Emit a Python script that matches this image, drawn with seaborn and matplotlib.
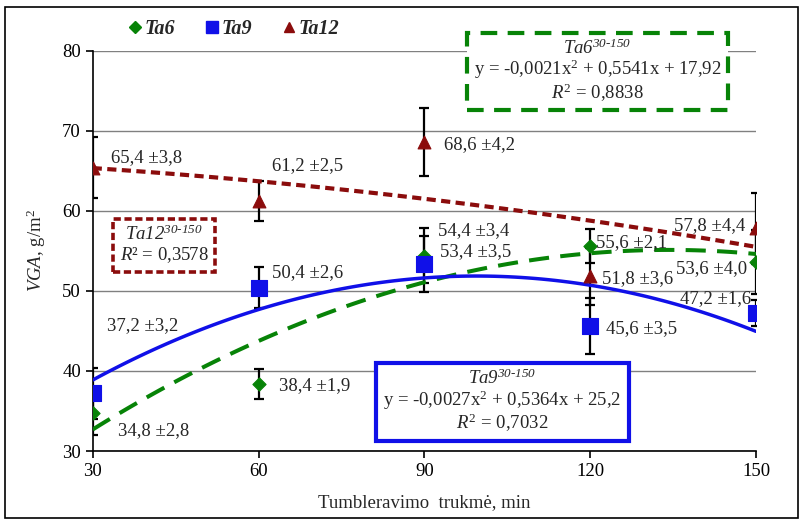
import numpy as np
import pandas as pd
import matplotlib
matplotlib.use("Agg")
import matplotlib.pyplot as plt
import seaborn as sns
from matplotlib.lines import Line2D
from matplotlib.patches import Rectangle

# data
times = [30, 60, 90, 120, 150]
ta6 = [34.8, 38.4, 54.4, 55.6, 53.6]
ta6_err = [2.8, 1.9, 3.4, 2.1, 4.0]
ta9 = [37.2, 50.4, 53.4, 45.6, 47.2]
ta9_err = [3.2, 2.6, 3.5, 3.5, 1.6]
ta12 = [65.4, 61.2, 68.6, 51.8, 57.8]
ta12_err = [3.8, 2.5, 4.2, 3.6, 4.4]
series_names = ["Ta6", "Ta9", "Ta12"]

df = pd.concat([
    pd.DataFrame({"t": times, "v": ta6, "e": ta6_err, "s": "Ta6"}),
    pd.DataFrame({"t": times, "v": ta9, "e": ta9_err, "s": "Ta9"}),
    pd.DataFrame({"t": times, "v": ta12, "e": ta12_err, "s": "Ta12"}),
], ignore_index=True)

sns.set_style("white")
plt.rcParams["font.family"] = ["Liberation Serif", "DejaVu Serif"]
plt.rcParams["mathtext.fontset"] = "custom"
plt.rcParams["mathtext.rm"] = "Liberation Serif"
plt.rcParams["mathtext.it"] = "Liberation Serif:italic"
plt.rcParams["mathtext.sf"] = "Liberation Serif:italic"
plt.rcParams["mathtext.bf"] = "Liberation Serif:bold"

FS = 13.5
colors = {"Ta6": "#078307", "Ta9": "#1010e8", "Ta12": "#8b0c0c"}
markers = {"Ta6": "D", "Ta9": "s", "Ta12": "^"}
msize = {"Ta6": 45, "Ta9": 120, "Ta12": 85}
line_kw = {
    "Ta6": dict(lw=2.9, linestyle=(0, (5.0, 2.8))),
    "Ta9": dict(lw=2.5, linestyle="-"),
    "Ta12": dict(lw=3.0, linestyle=(0, (2.2, 1.3))),
}

fig = plt.figure(figsize=(8.03, 5.22), dpi=100)
ax = fig.add_axes([92.7 / 803, 71 / 522, 663.3 / 803, 400.3 / 522])

# error bars
for name in series_names:
    sub = df[df.s == name]
    ax.errorbar(sub.t, sub.v, yerr=sub.e, fmt="none", ecolor="black",
                elinewidth=1.6, capsize=3.5, capthick=1.6, zorder=2)

# quadratic trend lines
for name in series_names:
    sub = df[df.s == name]
    kw = dict(line_kw[name])
    kw["zorder"] = 3
    sns.regplot(x="t", y="v", data=sub, order=2, ci=None, scatter=False,
                truncate=True, color=colors[name], line_kws=kw, ax=ax)

# markers
for name in series_names:
    sub = df[df.s == name]
    sns.scatterplot(x="t", y="v", data=sub, marker=markers[name], s=msize[name],
                    color=colors[name], edgecolor=colors[name], linewidth=0.8,
                    zorder=4, ax=ax, legend=False)

ax.set_xlim(30, 150)
ax.set_ylim(30, 80)
ax.set_xticks(times)
ax.set_yticks([30, 40, 50, 60, 70, 80])
ax.grid(axis="y", color="#808080", lw=1.0)
ax.grid(axis="x", visible=False)
for side in ["top", "right"]:
    ax.spines[side].set_visible(False)
for side in ["left", "bottom"]:
    ax.spines[side].set_color("black")
    ax.spines[side].set_linewidth(1.2)
ax.tick_params(axis="both", direction="out", length=5, width=1.2,
               labelsize=FS, colors="black", left=True, bottom=True)

ax.set_xlabel("Tumbleravimo  trukmė, min", fontsize=FS)
ax.set_ylabel(r"$\mathit{VGA}$, g/m$^2$", fontsize=FS)
ax.xaxis.set_label_coords(0.5, -0.108)
ax.yaxis.set_label_coords(-0.068, 0.5)

# value labels
labels = [
    (33.25, 66.6, "65,4 ±3,8", "left"),
    (62.45, 65.7, "61,2 ±2,5", "left"),
    (93.6, 68.3, "68,6 ±4,2", "left"),
    (92.5, 57.5, "54,4 ±3,4", "left"),
    (92.9, 54.9, "53,4 ±3,5", "left"),
    (121.0, 56.0, "55,6 ±2,1", "left"),
    (122.1, 51.5, "51,8 ±3,6", "left"),
    (148.4, 52.8, "53,6 ±4,0", "right"),
    (148.0, 58.2, "57,8 ±4,4", "right"),
    (149.1, 49.0, "47,2 ±1,6", "right"),
    (122.9, 45.3, "45,6 ±3,5", "left"),
    (62.5, 52.3, "50,4 ±2,6", "left"),
    (32.6, 45.7, "37,2 ±3,2", "left"),
    (63.7, 38.2, "38,4 ±1,9", "left"),
    (34.6, 32.5, "34,8 ±2,8", "left"),
]
for x, y, s, ha in labels:
    ax.text(x, y, s, ha=ha, va="center", fontsize=FS, zorder=5)

# equation boxes
sup = r"^{\mathsf{30}\text{-}\mathsf{150}}"
ax.text(121.3, 77.45,
        "$\\mathsf{Ta6}" + sup + "$\n"
        "y = -0,0021x$^2$ + 0,5541x + 17,92\n"
        "$\\mathit{R}^2$ = 0,8838",
        ha="center", va="center", fontsize=FS, linespacing=1.0, zorder=6,
        clip_on=False,
        bbox=dict(boxstyle="square,pad=0.35", fc="white", ec=colors["Ta6"],
                  lw=3, ls=(0, (4, 2.5))))
ax.text(42.9, 55.75,
        "$\\mathsf{Ta12}" + sup + "$\n"
        "$\\mathit{R}$² = 0,3578",
        ha="center", va="center", fontsize=FS, linespacing=1.1, zorder=6,
        bbox=dict(boxstyle="square,pad=0.35", fc="white", ec=colors["Ta12"],
                  lw=2.6, ls=(0, (2, 1))))
ax.text(104.1, 36.2,
        "$\\mathsf{Ta9}" + sup + "$\n"
        "y = -0,0027x$^2$ + 0,5364x + 25,2\n"
        "$\\mathit{R}^2$ = 0,7032",
        ha="center", va="center", fontsize=FS, linespacing=1.0, zorder=6,
        bbox=dict(boxstyle="square,pad=0.38", fc="white", ec=colors["Ta9"],
                  lw=3))

# legend
handles = [Line2D([], [], ls="none", marker=markers[n], color=colors[n],
                  markersize={"Ta6": 6, "Ta9": 8, "Ta12": 7}[n]) for n in series_names]
fig.legend(handles, series_names, loc="center", bbox_to_anchor=(232 / 803, 1 - 29 / 522),
           ncol=3, frameon=False, handletextpad=0.0, columnspacing=1.3,
           handlelength=1.0, prop=dict(family="Liberation Serif", weight="bold",
                                       style="italic", size=14.5))

# outer frame
fig.patches.append(Rectangle((5 / 803, 4 / 522), 793 / 803, 511 / 522,
                             transform=fig.transFigure, fill=False,
                             ec="black", lw=1.2))

fig.savefig("out.png", dpi=100)
